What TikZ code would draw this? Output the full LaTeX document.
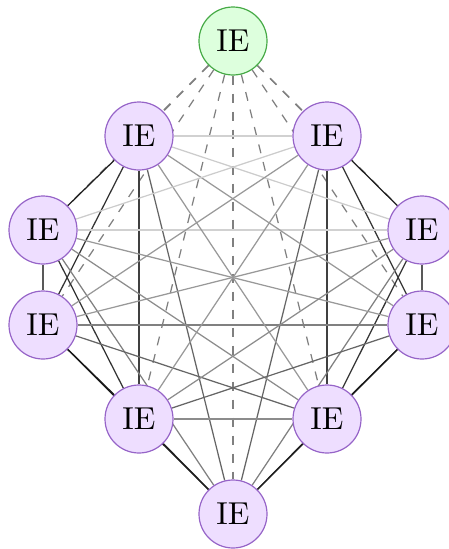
\documentclass[tikz,border=0pt]{standalone}
\usetikzlibrary{backgrounds}
\definecolor{iefill}{RGB}{238,222,255}
\definecolor{iedraw}{RGB}{150,100,200}
\definecolor{topfill}{RGB}{221,255,221}
\definecolor{topdraw}{RGB}{70,170,70}
\newcommand{\ielabel}{\scalebox{3.17}{IE}}
\tikzset{
  ie/.style={circle, draw=iedraw, fill=iefill, line width=1.2pt, minimum size=68pt, inner sep=0pt},
  ietop/.style={ie, draw=topdraw, fill=topfill},
  link/.style={line width=1.25pt},
  dlink/.style={line width=1.25pt, black!50, dash pattern=on 9pt off 9pt},
}
\begin{document}
\begin{tikzpicture}[x=1pt,y=-1pt]
\useasboundingbox (0,0) rectangle (449,549);
\node[ietop] (t)  at (233,41)  {\ielabel};
\node[ie] (al) at (139,136) {\ielabel};
\node[ie] (ar) at (327,136) {\ielabel};
\node[ie] (bl) at (43,230)  {\ielabel};
\node[ie] (br) at (422,230) {\ielabel};
\node[ie] (cl) at (43,325)  {\ielabel};
\node[ie] (cr) at (422,325) {\ielabel};
\node[ie] (dl) at (139,419) {\ielabel};
\node[ie] (dr) at (327,419) {\ielabel};
\node[ie] (e)  at (233,514) {\ielabel};
\begin{pgfonlayer}{background}
  % dashed links from the top node
  \foreach \n in {al,ar,bl,br,cl,cr,dl,dr,e}
    \draw[dlink] (t) -- (\n);
  % links within each side
  \foreach \a/\b/\s in {al/bl/88,al/cl/80,al/dl/75,al/e/60,bl/cl/65,bl/dl/80,bl/e/50,cl/dl/90,cl/e/90,dl/e/88,
                        ar/br/88,ar/cr/80,ar/dr/75,ar/e/60,br/cr/65,br/dr/80,br/e/50,cr/dr/90,cr/e/90,dr/e/88}
    \draw[link, black!\s] (\a) -- (\b);
  % links across
  \foreach \a/\b/\s in {al/ar/18,bl/br/18,cl/cr/50,dl/dr/45,
                        al/br/20,al/cr/40,al/dr/40,bl/cr/40,bl/dr/45,cl/dr/60,
                        ar/bl/20,ar/cl/40,ar/dl/40,br/cl/40,br/dl/45,cr/dl/60}
    \draw[link, black!\s] (\a) -- (\b);
\end{pgfonlayer}
\end{tikzpicture}
\end{document}
